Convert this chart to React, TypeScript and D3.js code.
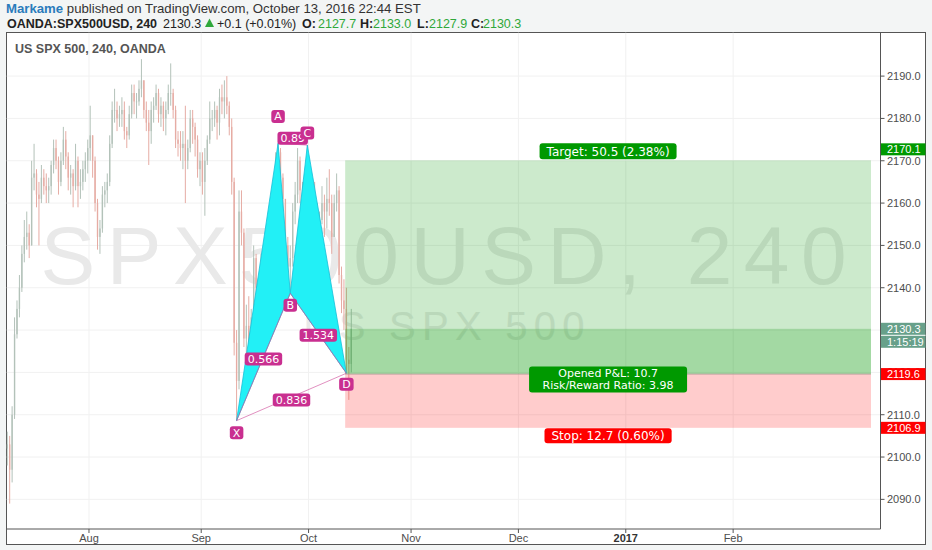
import * as d3 from 'd3';

// ---- data -------------------------------------------------------------
// half-day bars from Jul 7 2016 to Oct 13 2016 (two bars per trading day)
const highs = [
  2106, 2105, 2112, 2133, 2137, 2143, 2150, 2156, 2158, 2155, // Jul 7 - Jul 13
  2170, 2174, 2168, 2165, 2169, 2168, 2167, 2166, 2170, 2175, // Jul 14 - Jul 20
  2175, 2171, 2172, 2178, 2177, 2172, 2169, 2168, 2174, 2171, // Jul 21 - Jul 27
  2168, 2170, 2172, 2175, 2183, 2176, 2171, 2161, 2156, 2164, // Jul 28 - Aug 3
  2165, 2167, 2176, 2184, 2187, 2184, 2183, 2185, 2184, 2178, // Aug 4 - Aug 10
  2183, 2188, 2188, 2186, 2189, 2194, 2189, 2184, 2182, 2184, // Aug 11 - Aug 17
  2185, 2188, 2187, 2185, 2184, 2184, 2188, 2193, 2187, 2183, // Aug 18 - Aug 24
  2177, 2177, 2177, 2183, 2175, 2182, 2182, 2179, 2176, 2172, // Aug 25 - Aug 31
  2172, 2173, 2176, 2184, 2182, 2184, 2183, 2187, 2188, 2189, // Sep 1 - Sep 7
  2190, 2184, 2180, 2166, 2130, 2163, 2163, 2154, 2136, 2138, // Sep 8 - Sep 14
  2135, 2150, 2148, 2142, 2148, 2149, 2146, 2146, 2150, 2165, // Sep 15 - Sep 21
  2172, 2174.1, 2173, 2167, 2160, 2152, 2150, 2160, 2165, 2173, // Sep 22 - Sep 28
  2171, 2165, 2163, 2173.7, 2168, 2164, 2165, 2160, 2158, 2164, // Sep 29 - Oct 5
  2162, 2166, 2168, 2162, 2162, 2167, 2164, 2145, 2142, 2140, // Oct 6 - Oct 12
  2126, 2135, // Oct 13
];
const lows = [
  2098, 2089, 2094, 2109, 2128, 2133, 2139, 2146, 2149, 2147,
  2150, 2163, 2159, 2150, 2160, 2162, 2160, 2160, 2162, 2167,
  2168, 2162, 2164, 2169, 2168, 2163, 2162, 2159, 2163, 2159,
  2161, 2163, 2165, 2167, 2170, 2166, 2158, 2149, 2148, 2153,
  2159, 2160, 2164, 2173, 2179, 2177, 2178, 2178, 2175, 2173,
  2175, 2180, 2181, 2180, 2183, 2185, 2180, 2177, 2169, 2174,
  2179, 2182, 2179, 2178, 2177, 2176, 2181, 2183, 2180, 2173,
  2171, 2170, 2168, 2160, 2168, 2172, 2174, 2171, 2166, 2164,
  2162, 2157, 2169, 2174, 2177, 2178, 2175, 2176, 2181, 2180,
  2181, 2176, 2162, 2124, 2108.6, 2116, 2150, 2126, 2118, 2122,
  2124, 2131, 2136, 2133, 2137, 2135, 2137, 2136, 2139, 2145,
  2162, 2167, 2163, 2158, 2148, 2141, 2138.7, 2145, 2155, 2160,
  2160, 2149, 2150, 2158, 2157, 2155, 2154, 2146, 2149, 2155,
  2152, 2154, 2157, 2148, 2152, 2158, 2141, 2134, 2130, 2119.8,
  2113.5, 2120,
];
const closes = [
  2103, 2097, 2110, 2129, 2135, 2140, 2148, 2152, 2153, 2150,
  2166, 2167, 2162, 2161, 2166, 2164, 2163, 2164, 2169, 2173,
  2170, 2165, 2170, 2175, 2171, 2166, 2167, 2164, 2170, 2164,
  2165, 2168, 2170, 2173, 2176, 2170, 2160, 2152, 2154, 2162,
  2163, 2165, 2174, 2182, 2182, 2180, 2181, 2182, 2177, 2176,
  2181, 2186, 2184, 2184, 2187, 2189, 2182, 2179, 2177, 2182,
  2183, 2186, 2181, 2183, 2180, 2182, 2186, 2186, 2182, 2175,
  2174, 2173, 2174, 2170, 2173, 2180, 2178, 2175, 2168, 2170,
  2165, 2170, 2175, 2180, 2180, 2182, 2179, 2185, 2184, 2185,
  2183, 2178, 2165, 2127, 2118, 2158, 2153, 2128, 2131, 2126,
  2133, 2147, 2140, 2138, 2144, 2139, 2143, 2140, 2147, 2163,
  2170, 2172, 2166, 2161, 2150, 2145, 2147, 2158, 2162, 2170,
  2163, 2152, 2160, 2167, 2160, 2161, 2157, 2150, 2156, 2160,
  2158, 2161, 2160, 2152, 2160, 2163, 2143, 2137, 2135, 2123,
  2122, 2130.3,
];
const firstOpen = 2102;

// XABCD pattern pivots, referenced by bar index
const pivots = [
  { name: 'X', bar: 94, side: 'low' },
  { name: 'A', bar: 111, side: 'high' },
  { name: 'B', bar: 116, side: 'low' },
  { name: 'C', bar: 123, side: 'high' },
  { name: 'D', bar: 139, side: 'low' },
];
const ratioLinks = [
  { from: 'X', to: 'B', text: '0.566' },
  { from: 'A', to: 'C', text: '0.89' },
  { from: 'B', to: 'D', text: '1.534' },
  { from: 'X', to: 'D', text: '0.836' },
];

// long position
const entry = 2119.6;
const target = 2170.1;
const stop = 2106.9;
const positionStartBar = 139;
const positionEnd = new Date(2017, 2, 13);
const countdown = '1:15:19';

const priceTicks = d3.range(2090, 2191, 10);
const monthStarts = [
  new Date(2016, 7, 1), new Date(2016, 8, 1), new Date(2016, 9, 1), new Date(2016, 10, 1),
  new Date(2016, 11, 1), new Date(2017, 0, 1), new Date(2017, 1, 1),
];
const visibleDays = [0.1, 179.2];
const priceDomain = [2083.0, 2200.3];

// ---- layout -----------------------------------------------------------
const W = 932;
const H = 550;
const plot = { left: 6.5, top: 32.5, right: 880.5, bottom: 529 };
const frame = { right: 925.5, bottom: 544.5 };
const axisFont = 'Liberation Sans, Arial, sans-serif';
const drawFont = 'DejaVu Sans, Verdana, sans-serif';

const tradingDays = d3.timeDay
  .range(new Date(2016, 6, 7), new Date(2017, 3, 1))
  .filter(d => d.getDay() !== 0 && d.getDay() !== 6);
const dayIndex = (d: Date) => tradingDays.findIndex(t => +t >= +d);

const ctx = document.createElement('canvas').getContext('2d');
const measure = (text: string, font: string) => {
  if (!ctx) return text.length * 7;
  ctx.font = font;
  return ctx.measureText(text).width;
};

function Tag({ cx, cy, text, fill, size, padX, h }: { cx: number; cy: number; text: string; fill: string; size: number; padX: number; h: number }) {
  const w = measure(text, `${size}px DejaVu Sans`) + padX * 2;
  return (
    <g>
      <rect x={cx - w / 2} y={cy - h / 2} width={w} height={h} rx={3} fill={fill} />
      <text x={cx} y={cy} dy="0.36em" textAnchor="middle" fontFamily={drawFont} fontSize={size} fill="#fff">{text}</text>
    </g>
  );
}

export default function App() {
  const x = d3.scaleLinear().domain(visibleDays).range([plot.left, plot.right]);
  const y = d3.scaleLinear().domain(priceDomain).range([plot.bottom, plot.top]);
  const step = x(0.5) - x(0);
  const barX = (k: number) => x(Math.floor(k / 2) + 0.25 + 0.5 * (k % 2));
  const opens = closes.map((c, i) => (i === 0 ? firstOpen : closes[i - 1]));
  const lastClose = closes[closes.length - 1];
  const f1 = d3.format('.1f');
  const f2 = d3.format('.2f');

  const pts = Object.fromEntries(pivots.map(p => [p.name, {
    x: barX(p.bar),
    y: y(p.side === 'low' ? lows[p.bar] : highs[p.bar]),
  }]));
  const poly = (names: string[]) => names.map(n => `${pts[n].x},${pts[n].y}`).join(' ');
  const letterDy: Record<string, number> = { X: 12, A: -27, B: 12, C: -12, D: 11 };
  const ratioDy = [2, -6, 2, 3];

  const posX0 = barX(positionStartBar) - step / 2;
  const posX1 = x(dayIndex(positionEnd) + 0.25);
  const posCx = (posX0 + posX1) / 2;
  const reward = target - entry;
  const risk = entry - stop;
  const pnl = lastClose - entry;

  const upColor = '#b3c2b9';
  const downColor = '#e6aca4';

  const axisTags = [
    { price: target, fill: '#009900', above: true },
    { price: entry, fill: '#ff0000', above: false },
    { price: stop, fill: '#ff0000', above: false },
  ];

  return (
    <div style={{ position: 'absolute', left: 0, top: 0 }}>
      <svg width={W} height={H} style={{ display: 'block' }}>
        <defs>
          <clipPath id="plotClip">
            <rect x={plot.left} y={plot.top} width={plot.right - plot.left} height={plot.bottom - plot.top} />
          </clipPath>
        </defs>
        <rect width={W} height={H} fill="#f3f5f5" />

        {/* header */}
        <text x={6} y={13} fontFamily={axisFont} fontSize={13.2} fill="#333">
          <tspan fill="#2b7cbc" fontWeight="bold">Markame</tspan>
          <tspan> published on TradingView.com, October 13, 2016 22:44 EST</tspan>
        </text>
        <g fontFamily={axisFont} fontSize={12.5} fill="#222">
          <text x={7} y={27.5} fontWeight="bold">OANDA:SPX500USD, 240</text>
          <text x={163} y={27.5}>2130.3</text>
          <path d="M205,27 L209.5,18.5 L214,27 Z" fill="#2fa83a" />
          <text x={217} y={27.5}>+0.1 (+0.01%)</text>
          <text x={302} y={27.5} fontWeight="bold">O:</text>
          <text x={318} y={27.5} fill="#2fa83a">2127.7</text>
          <text x={360} y={27.5} fontWeight="bold">H:</text>
          <text x={373} y={27.5} fill="#2fa83a">2133.0</text>
          <text x={417} y={27.5} fontWeight="bold">L:</text>
          <text x={429} y={27.5} fill="#2fa83a">2127.9</text>
          <text x={471} y={27.5} fontWeight="bold">C:</text>
          <text x={483} y={27.5} fill="#2fa83a">2130.3</text>
        </g>

        {/* frame */}
        <rect x={plot.left} y={plot.top} width={frame.right - plot.left} height={frame.bottom - plot.top} fill="#fff" stroke="#555" strokeWidth={1} />

        <g clipPath="url(#plotClip)">
          {/* grid */}
          {priceTicks.map(t => (
            <line key={t} x1={plot.left} x2={plot.right} y1={y(t)} y2={y(t)} stroke="#f1f1f1" />
          ))}
          {monthStarts.map(m => (
            <line key={+m} x1={x(dayIndex(m))} x2={x(dayIndex(m))} y1={plot.top} y2={plot.bottom} stroke="#f1f1f1" />
          ))}

          {/* watermark */}
          <text x={(plot.left + plot.right) / 2 - 403} y={284} fontFamily={axisFont} fontSize={82} fill="#e9e9e9"
            textLength={806} lengthAdjust="spacing">SPX500USD, 240</text>
          <text x={(plot.left + plot.right) / 2 - 140} y={340} fontFamily={axisFont} fontSize={40} fill="#e9e9e9"
            textLength={281} lengthAdjust="spacing">US SPX 500</text>

          {/* candles */}
          {closes.map((c, k) => {
            const o = opens[k];
            const col = c >= o ? upColor : downColor;
            const cx = barX(k);
            const top = y(Math.max(o, c));
            const bh = Math.max(0.8, Math.abs(y(o) - y(c)));
            return (
              <g key={k}>
                <line x1={cx} x2={cx} y1={y(highs[k])} y2={y(lows[k])} stroke={col} strokeWidth={1} />
                <rect x={cx - step * 0.28} y={top} width={step * 0.56} height={bh} fill={col} />
              </g>
            );
          })}

          {/* long position */}
          <rect x={posX0} y={y(target)} width={posX1 - posX0} height={y(entry) - y(target)} fill="rgb(0,150,0)" fillOpacity={0.2} />
          <rect x={posX0} y={y(lastClose)} width={posX1 - posX0} height={y(entry) - y(lastClose)} fill="rgb(0,150,0)" fillOpacity={0.2} />
          <rect x={posX0} y={y(entry)} width={posX1 - posX0} height={y(stop) - y(entry)} fill="rgb(255,0,0)" fillOpacity={0.2} />
          <line x1={posX0} x2={posX1} y1={y(entry)} y2={y(entry)} stroke="#b59a96" strokeWidth={0.8} />

          {/* XABCD pattern */}
          <polygon points={poly(['X', 'A', 'B'])} fill="#22f0f6" stroke="#16bfd8" strokeWidth={0.8} />
          <polygon points={poly(['B', 'C', 'D'])} fill="#22f0f6" stroke="#16bfd8" strokeWidth={0.8} />
          {ratioLinks.map(l => (
            <line key={l.text} x1={pts[l.from].x} y1={pts[l.from].y} x2={pts[l.to].x} y2={pts[l.to].y}
              stroke="#d0509c" strokeWidth={0.8} strokeOpacity={0.8} />
          ))}
          {ratioLinks.map((l, i) => (
            <Tag key={l.text} cx={(pts[l.from].x + pts[l.to].x) / 2} cy={(pts[l.from].y + pts[l.to].y) / 2 + ratioDy[i]}
              text={l.text} fill="#c92f90" size={11} padX={3} h={13} />
          ))}
          {pivots.map(p => (
            <Tag key={p.name} cx={pts[p.name].x} cy={pts[p.name].y + letterDy[p.name]} text={p.name} fill="#c92f90" size={11} padX={3} h={13} />
          ))}

          {/* position labels */}
          <Tag cx={posCx} cy={y(target) - 9} text={`Target: ${f1(reward)} (${f2((reward / entry) * 100)}%)`} fill="#009900" size={12} padX={7} h={16} />
          <g>
            <rect x={posCx - 79} y={y(entry) - 7.5} width={158} height={26} rx={3} fill="#009900" />
            <text x={posCx} y={y(entry) + 2.5} textAnchor="middle" fontFamily={drawFont} fontSize={11} fill="#fff">{`Opened P&L: ${f1(pnl)}`}</text>
            <text x={posCx} y={y(entry) + 15} textAnchor="middle" fontFamily={drawFont} fontSize={11} fill="#fff">{`Risk/Reward Ratio: ${f2(reward / risk)}`}</text>
          </g>
          <Tag cx={posCx} cy={y(stop) + 8} text={`Stop: ${f1(risk)} (${f2((risk / entry) * 100)}%)`} fill="#ff0000" size={12} padX={7} h={15} />

          <text x={15} y={52.5} fontFamily={axisFont} fontSize={12.5} fontWeight="bold" fill="#555">US SPX 500, 240, OANDA</text>
        </g>

        {/* axes */}
        <line x1={plot.right} x2={plot.right} y1={plot.top} y2={plot.bottom} stroke="#555" />
        <line x1={plot.left} x2={plot.right} y1={plot.bottom} y2={plot.bottom} stroke="#555" />
        {priceTicks.map(t => (
          <g key={t}>
            <line x1={plot.right} x2={plot.right + 4} y1={y(t)} y2={y(t)} stroke="#555" />
            <text x={887} y={y(t)} dy="0.35em" fontFamily={axisFont} fontSize={11} fill="#4d4d4d">{f1(t)}</text>
          </g>
        ))}
        {monthStarts.map(m => {
          const mx = x(dayIndex(m));
          const isYear = m.getMonth() === 0;
          return (
            <g key={+m}>
              <line x1={mx} x2={mx} y1={plot.bottom} y2={plot.bottom + 4} stroke="#555" />
              <text x={mx} y={542} textAnchor="middle" fontFamily={axisFont} fontSize={11}
                fontWeight={isYear ? 'bold' : 'normal'} fill={isYear ? '#333' : '#4d4d4d'}>
                {isYear ? d3.timeFormat('%Y')(m) : d3.timeFormat('%b')(m)}
              </text>
            </g>
          );
        })}

        {/* price axis tags */}
        {axisTags.map(tg => {
          const cy = tg.above ? y(tg.price) - 11 : y(tg.price);
          return (
            <g key={tg.price}>
              <rect x={plot.right + 0.5} y={cy - 6} width={frame.right - plot.right - 0.5} height={12} fill={tg.fill} />
              <text x={887} y={cy} dy="0.36em" fontFamily={axisFont} fontSize={11} fill="#fff">{f1(tg.price)}</text>
            </g>
          );
        })}
        <g>
          <rect x={plot.right + 0.5} y={y(lastClose) - 6} width={frame.right - plot.right - 0.5} height={25} fill="#67a08a" />
          <line x1={plot.right + 0.5} x2={frame.right} y1={y(lastClose) + 6.5} y2={y(lastClose) + 6.5} stroke="#fff" />
          <text x={887} y={y(lastClose)} dy="0.36em" fontFamily={axisFont} fontSize={11} fill="#fff">{f1(lastClose)}</text>
          <text x={887} y={y(lastClose) + 13} dy="0.36em" fontFamily={axisFont} fontSize={11} fill="#fff">{countdown}</text>
        </g>
      </svg>
    </div>
  );
}
